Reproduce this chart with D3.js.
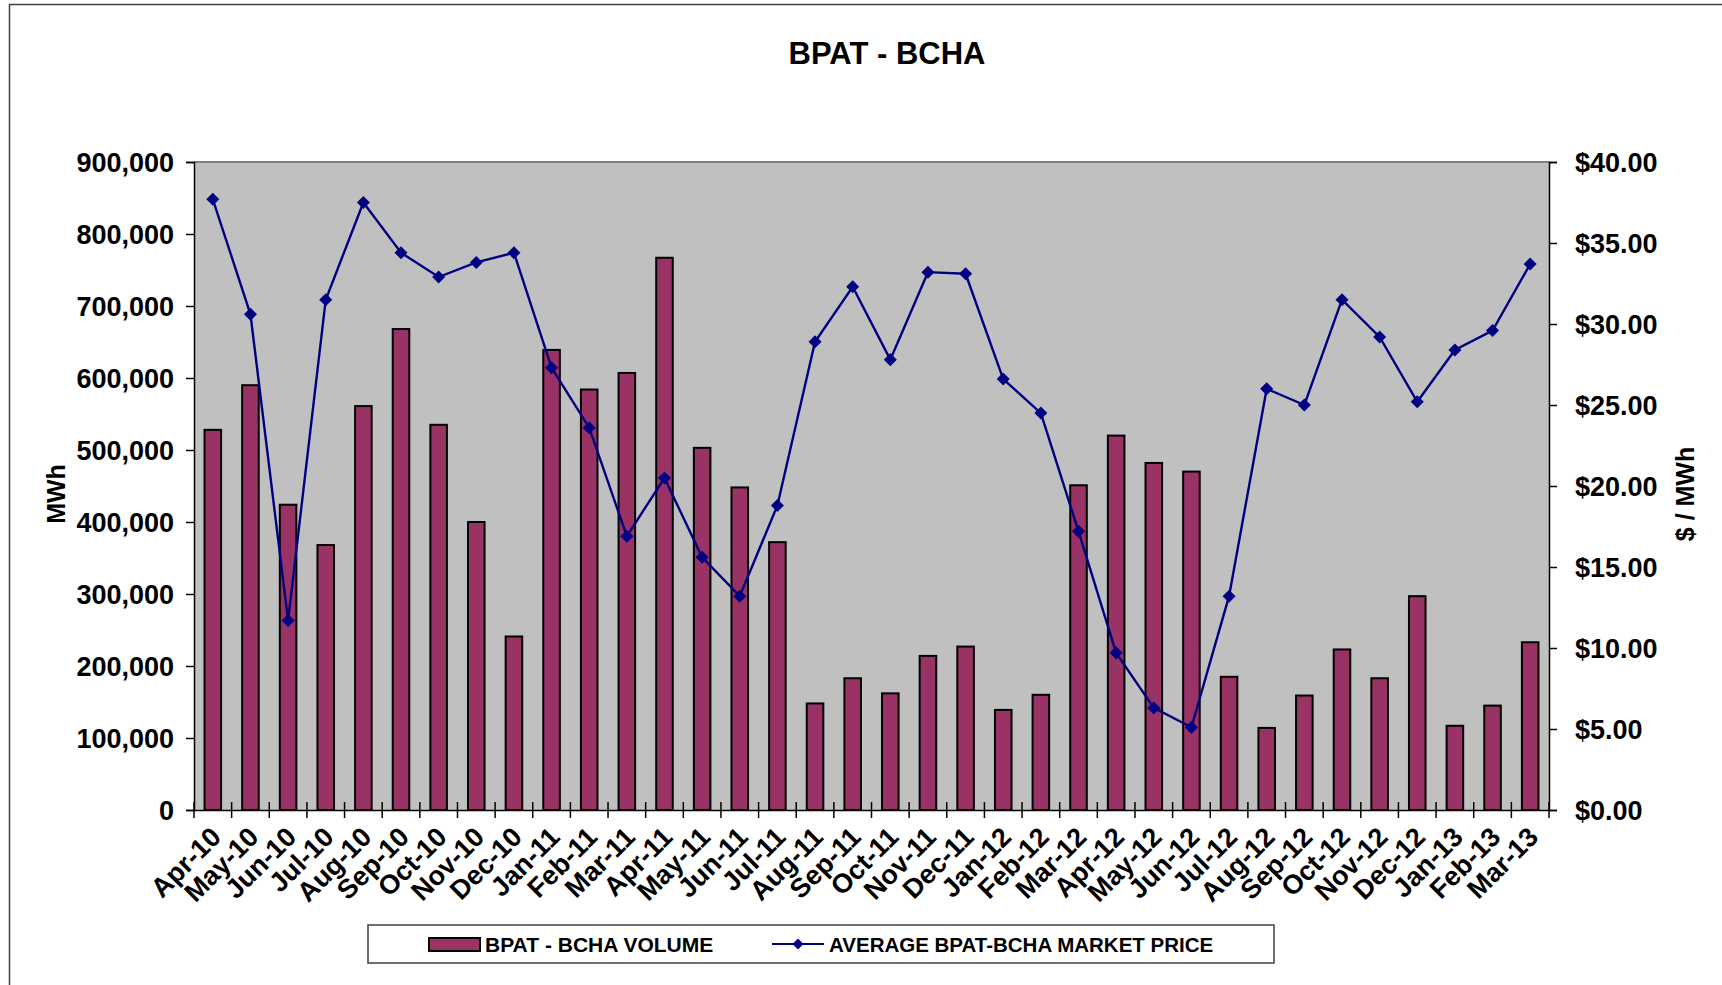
<!DOCTYPE html>
<html>
<head>
<meta charset="utf-8">
<script src="https://cdn.jsdelivr.net/npm/d3@7"></script>
<style>
  body { margin: 0; background: #fff; }
  svg text { font-family: "Liberation Sans", Arial, sans-serif; font-weight: bold; fill: #000; }
</style>
</head>
<body>
<svg id="chart" width="1722" height="985"></svg>
<script>
// months on the category axis
var months = ["Apr-10","May-10","Jun-10","Jul-10","Aug-10","Sep-10","Oct-10","Nov-10","Dec-10",
  "Jan-11","Feb-11","Mar-11","Apr-11","May-11","Jun-11","Jul-11","Aug-11","Sep-11","Oct-11","Nov-11","Dec-11",
  "Jan-12","Feb-12","Mar-12","Apr-12","May-12","Jun-12","Jul-12","Aug-12","Sep-12","Oct-12","Nov-12","Dec-12",
  "Jan-13","Feb-13","Mar-13"];

// MWh
var volume = [528000,590000,424000,368000,561000,668000,535000,400000,241000,
  639000,584000,607000,767000,503000,448000,372000,148000,183000,162000,214000,227000,
  139000,160000,451000,520000,482000,470000,185000,114000,159000,223000,183000,297000,
  117000,145000,233000];

// $ / MWh
var price = [37.7,30.6,11.7,31.5,37.5,34.4,32.9,33.8,34.4,
  27.3,23.6,16.9,20.5,15.6,13.2,18.8,28.9,32.3,27.8,33.2,33.1,
  26.6,24.5,17.2,9.7,6.3,5.1,13.2,26.0,25.0,31.5,29.2,25.2,
  28.4,29.6,33.7];

var volumeTicks = [0,100000,200000,300000,400000,500000,600000,700000,800000,900000];
var priceTicks = [0,5,10,15,20,25,30,35,40];

(function(){

var svg = d3.select("#chart");

var plotLeft = 194, plotRight = 1549, plotTop = 162, plotBottom = 810;

// outer frame
svg.append("rect")
  .attr("x", 9.5).attr("y", 4.5)
  .attr("width", 1730).attr("height", 1000)
  .attr("fill", "none").attr("stroke", "#404040").attr("stroke-width", 1.5);

svg.append("text")
  .attr("x", 887).attr("y", 64)
  .attr("text-anchor", "middle")
  .style("font-size", "31px")
  .text("BPAT - BCHA");

var x = d3.scaleBand().domain(months).range([plotLeft, plotRight]);
var yVol = d3.scaleLinear().domain([0, 900000]).range([plotBottom, plotTop]);
var yPrice = d3.scaleLinear().domain([0, 40]).range([plotBottom, plotTop]);

svg.append("rect")
  .attr("x", plotLeft).attr("y", plotTop)
  .attr("width", plotRight - plotLeft).attr("height", plotBottom - plotTop)
  .attr("fill", "#c0c0c0");

svg.append("line")
  .attr("x1", plotLeft).attr("x2", plotRight).attr("y1", plotTop).attr("y2", plotTop)
  .attr("stroke", "#808080").attr("stroke-width", 2);

var barW = x.bandwidth() * 0.44;
svg.append("g").selectAll("rect")
  .data(volume)
  .enter()
  .append("rect")
  .attr("x", function(d, i){ return x(months[i]) + (x.bandwidth() - barW) / 2; })
  .attr("y", function(d){ return yVol(d); })
  .attr("width", barW)
  .attr("height", function(d){ return plotBottom - yVol(d); })
  .attr("fill", "#993366")
  .attr("stroke", "#000")
  .attr("stroke-width", 2);

// left axis
var axL = svg.append("g")
  .attr("transform", "translate(" + plotLeft + ",0)")
  .call(d3.axisLeft(yVol).tickValues(volumeTicks).tickSize(8).tickPadding(12)
    .tickFormat(d3.format(",")));
axL.selectAll("text").style("font-size", "27px").attr("dy", "0.35em");

// right axis
var axR = svg.append("g")
  .attr("transform", "translate(" + plotRight + ",0)")
  .call(d3.axisRight(yPrice).tickValues(priceTicks).tickSize(8).tickPadding(18)
    .tickFormat(function(d){ return "$" + d.toFixed(2); }));
axR.selectAll("text").style("font-size", "27px").attr("dy", "0.35em");

// bottom axis, ticks between categories
var axB = svg.append("g")
  .attr("transform", "translate(0," + plotBottom + ")")
  .call(d3.axisBottom(x).tickSize(0).tickFormat(""));
axB.select(".domain").attr("stroke-width", 1.5);
[axL, axR].forEach(function(a){
  a.select(".domain").attr("stroke-width", 1.5);
  a.selectAll("line").attr("stroke-width", 1.5);
});

svg.append("g").selectAll("line")
  .data(months.concat(["end"]))
  .enter()
  .append("line")
  .attr("x1", function(d, i){ return plotLeft + i * x.step(); })
  .attr("x2", function(d, i){ return plotLeft + i * x.step(); })
  .attr("y1", plotBottom - 8).attr("y2", plotBottom + 8)
  .attr("stroke", "#000").attr("stroke-width", 1.5);

svg.append("g").selectAll("text")
  .data(months)
  .enter()
  .append("text")
  .attr("transform", function(d){
    return "translate(" + (x(d) + x.bandwidth() / 2 + 3) + "," + (plotBottom + 22) + ") rotate(-45)";
  })
  .attr("text-anchor", "end")
  .attr("dy", "0.35em")
  .style("font-size", "27px")
  .text(function(d){ return d; });

// axis titles
svg.append("text")
  .attr("transform", "translate(65,494) rotate(-90)")
  .attr("text-anchor", "middle")
  .style("font-size", "25px")
  .text("MWh");
svg.append("text")
  .attr("transform", "translate(1694,494) rotate(-90)")
  .attr("text-anchor", "middle")
  .style("font-size", "25px")
  .text("$ / MWh");

// price line
var line = d3.line()
  .x(function(d, i){ return x(months[i]) + x.bandwidth() / 2; })
  .y(function(d){ return yPrice(d); });

svg.append("path")
  .datum(price)
  .attr("d", line)
  .attr("fill", "none")
  .attr("stroke", "#000080")
  .attr("stroke-width", 2.4);

var diamond = d3.symbol().type(d3.symbolSquare).size(85);
svg.append("g").selectAll("path")
  .data(price)
  .enter()
  .append("path")
  .attr("d", diamond)
  .attr("transform", function(d, i){
    return "translate(" + (x(months[i]) + x.bandwidth() / 2) + "," + yPrice(d) + ") rotate(45)";
  })
  .attr("fill", "#000080");

// legend
var lg = svg.append("g");
lg.append("rect")
  .attr("x", 368).attr("y", 925).attr("width", 906).attr("height", 38)
  .attr("fill", "#fff").attr("stroke", "#404040").attr("stroke-width", 1.5);
lg.append("rect")
  .attr("x", 429).attr("y", 938).attr("width", 51).attr("height", 13)
  .attr("fill", "#993366").attr("stroke", "#000").attr("stroke-width", 2);
lg.append("text")
  .attr("x", 485).attr("y", 952)
  .style("font-size", "21px")
  .text("BPAT - BCHA VOLUME");
lg.append("line")
  .attr("x1", 772).attr("x2", 824).attr("y1", 944).attr("y2", 944)
  .attr("stroke", "#000080").attr("stroke-width", 2.2);
lg.append("path")
  .attr("d", d3.symbol().type(d3.symbolSquare).size(60))
  .attr("transform", "translate(798,944) rotate(45)")
  .attr("fill", "#000080");
lg.append("text")
  .attr("x", 829).attr("y", 952)
  .style("font-size", "20.5px")
  .text("AVERAGE BPAT-BCHA MARKET PRICE");

})();
</script>
</body>
</html>
